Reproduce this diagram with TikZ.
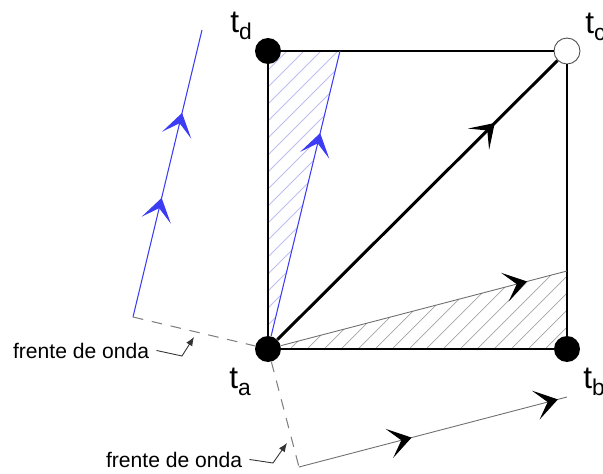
\documentclass[tikz,border=0pt]{standalone}
\usepackage{fontspec}
\setmainfont{Liberation Sans}
\usepackage{tikz}
\usetikzlibrary{arrows.meta, positioning, calc, backgrounds, decorations.markings}
\definecolor{rayblue}{RGB}{60, 60, 245}
\definecolor{hatchblue}{RGB}{190, 190, 242}
\definecolor{raygray}{RGB}{110, 110, 110}
\definecolor{hatchgray}{RGB}{165, 165, 165}
\newcommand{\tlabel}[1]{{\fontsize{18}{20}\selectfont t}\raisebox{-4pt}{\fontsize{13}{15}\selectfont #1}}

\begin{document}
\begin{tikzpicture}[
    x=0.02cm, y=-0.02cm,
    % Define styles
    dot/.style = {circle, fill=black, inner sep=0pt, minimum size=0.52cm},
    hollow/.style = {circle, draw=black!70, fill=white, inner sep=0pt, minimum size=0.52cm, line width=0.5pt},
    side/.style = {line width=1.1pt},
    diag/.style = {line width=1.7pt},
    blueray/.style = {color=rayblue, line width=0.6pt},
    grayray/.style = {draw=raygray, line width=0.5pt},
    front/.style = {draw=gray, line width=0.6pt, dash pattern=on 6pt off 5pt},
    leader/.style = {draw=black!80, line width=0.5pt, -{Latex[length=5pt, width=4pt]}},
    wave/.style = {font=\fontsize{12}{14}\selectfont, inner sep=1pt, anchor=base west},
    tlbl/.style = {inner sep=0pt, anchor=base west},
    mid/.style = {postaction={decorate, decoration={markings, mark=at position #1 with {\arrow{Stealth[length=13pt, width=17pt, inset=7pt]}}}}},
    midk/.style = {postaction={decorate, decoration={markings, mark=at position #1 with {\arrow[black]{Stealth[length=13pt, width=17pt, inset=7pt]}}}}}
]

\useasboundingbox (0,0) rectangle (603,474);

% Nodes
\node [dot] (ta) at (268,349) {};
\node [dot] (tb) at (567,349) {};
\node [hollow] (tc) at (567,51) {};
\node [dot] (td) at (268,51) {};

\coordinate (bt) at (340,51);
\coordinate (w1) at (133,317);
\coordinate (wt) at (202,30);
\coordinate (w2) at (299,467);
\coordinate (br) at (567,397);
\coordinate (gr) at (567,271);

\node [tlbl] (la) at (229,388) {\tlabel{a}};
\node [tlbl] (lb) at (583,388) {\tlabel{b}};
\node [tlbl] (lc) at (585,33) {\tlabel{c}};
\node [tlbl] (ld) at (230,32) {\tlabel{d}};

\node [wave] (fw1) at (11,358) {frente de onda};
\node [wave] (fw2) at (104,467) {frente de onda};
\coordinate (k1) at (182,356);
\coordinate (f1) at (194,337);
\coordinate (k2) at (273,463);
\coordinate (f2) at (287,443);

% Hatching
\begin{scope}[on background layer]
  \begin{scope}
    \clip (ta.center) -- (td.center) -- (bt) -- cycle;
    \foreach \k in {0,...,24}
      \draw [hatchblue, line width=0.5pt] (250,{445-17*\k}) -- ++(120,-120);
  \end{scope}
  \begin{scope}
    \clip (ta.center) -- (tb.center) -- (gr) -- cycle;
    \foreach \k in {0,...,26}
      \draw [hatchgray, line width=0.4pt] ({160+17*\k},360) -- ++(110,-110);
  \end{scope}
\end{scope}

% Square
\draw [side] (ta) -- (tb);
\draw [side] (tb) -- (tc);
\draw [side] (tc) -- (td);
\draw [side] (td) -- (ta);

% Arrows
\draw [diag, mid=0.776] (ta) -- (tc);
\draw [blueray, mid=0.712] (ta) -- (bt);
\draw [blueray, mid=0.415, mid=0.711] (w1) -- (wt);
\draw [grayray, midk=0.86] (ta) -- (gr);
\draw [grayray, midk=0.42, midk=0.966] (w2) -- (br);

% Wave fronts
\draw [front] (w1) -- (ta);
\draw [front] (ta) -- (w2);
\draw [leader] ([xshift=3pt]fw1.east) -- (k1) -- (f1);
\draw [leader] ([xshift=3pt]fw2.east) -- (k2) -- (f2);

\end{tikzpicture}
\end{document}
